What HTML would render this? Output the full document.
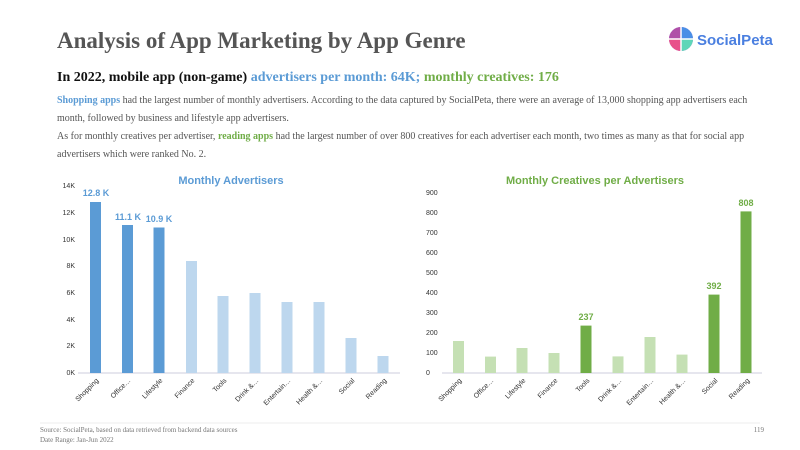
<!DOCTYPE html>
<html><head><meta charset="utf-8"><style>
body{margin:0;background:#fff}
svg{display:block}
</style></head><body>
<svg width="800" height="450" xmlns="http://www.w3.org/2000/svg" font-family="Liberation Serif, serif">
<rect width="800" height="450" fill="#fff"/>
<text x="57" y="48" font-size="23" font-weight="bold" fill="#555">Analysis of App Marketing by App Genre</text>
<!-- logo -->
<g transform="translate(681,39)">
<circle r="12" fill="#9b6fd6"/>
<path d="M0,0 L0,-12 A12,12 0 0,1 12,0 Z" fill="#4a8fe6"/>
<path d="M0,0 L12,0 A12,12 0 0,1 0,12 Z" fill="#5fd6b8"/>
<path d="M0,0 L0,12 A12,12 0 0,1 -12,0 Z" fill="#e8508a"/>
<path d="M0,0 L-12,0 A12,12 0 0,1 0,-12 Z" fill="#b04fa8"/>
<line x1="-12" y1="0" x2="12" y2="0" stroke="#fff" stroke-width="1.5"/>
<line x1="0" y1="-12" x2="0" y2="12" stroke="#fff" stroke-width="1.5"/>
</g>
<text x="697" y="45" font-family="Liberation Sans, sans-serif" font-size="15" font-weight="bold" fill="#4a7fe0">SocialPeta</text>

<text x="57" y="81" font-size="14" font-weight="bold" fill="#111">In 2022, mobile app (non-game) <tspan fill="#5b9bd5">advertisers per month: 64K;</tspan> <tspan fill="#70ad47">monthly creatives: 176</tspan></text>
<g font-size="10" fill="#555">
<text x="57" y="103"><tspan fill="#5b9bd5" font-weight="bold">Shopping apps</tspan> had the largest number of monthly advertisers. According to the data captured by SocialPeta, there were an average of 13,000 shopping app advertisers each</text>
<text x="57" y="121">month, followed by business and lifestyle app advertisers.</text>
<text x="57" y="139">As for monthly creatives per advertiser, <tspan fill="#70ad47" font-weight="bold">reading apps</tspan> had the largest number of over 800 creatives for each advertiser each month, two times as many as that for social app</text>
<text x="57" y="157">advertisers which were ranked No. 2.</text>
</g>

<!-- left chart -->
<g font-family="Liberation Sans, sans-serif">
<text x="231" y="184" font-size="11" font-weight="bold" fill="#5b9bd5" text-anchor="middle">Monthly Advertisers</text>
<g font-size="7" fill="#333" text-anchor="end">
<text x="75" y="375">0K</text><text x="75" y="348">2K</text><text x="75" y="322">4K</text><text x="75" y="295">6K</text><text x="75" y="268">8K</text><text x="75" y="242">10K</text><text x="75" y="215">12K</text><text x="75" y="188">14K</text>
</g>
<line x1="78" y1="373" x2="400" y2="373" stroke="#ccd" stroke-width="1"/>
<g fill="#5b9bd5">
<rect x="90" y="202" width="11" height="171"/>
<rect x="122" y="225" width="11" height="148"/>
<rect x="153.5" y="227.5" width="11" height="145.5"/>
</g>
<g fill="#bdd7ee">
<rect x="186" y="261" width="11" height="112"/>
<rect x="217.5" y="296" width="11" height="77"/>
<rect x="249.5" y="293" width="11" height="80"/>
<rect x="281.5" y="302" width="11" height="71"/>
<rect x="313.5" y="302" width="11" height="71"/>
<rect x="345.5" y="338" width="11" height="35"/>
<rect x="377.5" y="356" width="11" height="17"/>
</g>
<g font-size="9" font-weight="bold" fill="#5b9bd5" text-anchor="middle">
<text x="96" y="196">12.8 K</text><text x="128" y="220">11.1 K</text><text x="159" y="222">10.9 K</text>
</g>
<g font-size="7" fill="#333" text-anchor="end">
<text transform="translate(99,381) rotate(-45)">Shopping</text>
<text transform="translate(131,381) rotate(-45)">Office…</text>
<text transform="translate(163,381) rotate(-45)">Lifestyle</text>
<text transform="translate(195,381) rotate(-45)">Finance</text>
<text transform="translate(227,381) rotate(-45)">Tools</text>
<text transform="translate(259,381) rotate(-45)">Drink &amp;…</text>
<text transform="translate(291,381) rotate(-45)">Entertain…</text>
<text transform="translate(323,381) rotate(-45)">Health &amp;…</text>
<text transform="translate(355,381) rotate(-45)">Social</text>
<text transform="translate(387,381) rotate(-45)">Reading</text>
</g>

<!-- right chart -->
<text x="595" y="184" font-size="11" font-weight="bold" fill="#70ad47" text-anchor="middle">Monthly Creatives per Advertisers</text>
<g font-size="7" fill="#333" text-anchor="start">
<text x="426" y="375">0</text><text x="426" y="355">100</text><text x="426" y="335">200</text><text x="426" y="315">300</text><text x="426" y="295">400</text><text x="426" y="275">500</text><text x="426" y="255">600</text><text x="426" y="235">700</text><text x="426" y="215">800</text><text x="426" y="195">900</text>
</g>
<line x1="442" y1="373" x2="762" y2="373" stroke="#ccd" stroke-width="1"/>
<g fill="#c5e0b4">
<rect x="453" y="341" width="11" height="32"/>
<rect x="485" y="356.6" width="11" height="16.4"/>
<rect x="516.5" y="348" width="11" height="25"/>
<rect x="548.5" y="353" width="11" height="20"/>
<rect x="612.5" y="356.4" width="11" height="16.6"/>
<rect x="644.5" y="337" width="11" height="36"/>
<rect x="676.5" y="354.6" width="11" height="18.4"/>
</g>
<g fill="#70ad47">
<rect x="580.5" y="325.6" width="11" height="47.4"/>
<rect x="708.5" y="294.6" width="11" height="78.4"/>
<rect x="740.5" y="211.4" width="11" height="161.6"/>
</g>
<g font-size="9" font-weight="bold" fill="#70ad47" text-anchor="middle">
<text x="586" y="320">237</text><text x="714" y="289">392</text><text x="746" y="206">808</text>
</g>
<g font-size="7" fill="#333" text-anchor="end">
<text transform="translate(462,381) rotate(-45)">Shopping</text>
<text transform="translate(494,381) rotate(-45)">Office…</text>
<text transform="translate(526,381) rotate(-45)">Lifestyle</text>
<text transform="translate(558,381) rotate(-45)">Finance</text>
<text transform="translate(590,381) rotate(-45)">Tools</text>
<text transform="translate(622,381) rotate(-45)">Drink &amp;…</text>
<text transform="translate(654,381) rotate(-45)">Entertain…</text>
<text transform="translate(686,381) rotate(-45)">Health &amp;…</text>
<text transform="translate(718,381) rotate(-45)">Social</text>
<text transform="translate(750,381) rotate(-45)">Reading</text>
</g>
</g>

<line x1="40" y1="423" x2="760" y2="423" stroke="#ddd" stroke-width="0.6"/>
<g font-size="7" fill="#777">
<text x="40" y="432">Source: SocialPeta, based on data retrieved from backend data sources</text>
<text x="40" y="442">Date Range: Jan-Jun 2022</text>
<text x="764" y="432" text-anchor="end">119</text>
</g>
</svg>
</body></html>
